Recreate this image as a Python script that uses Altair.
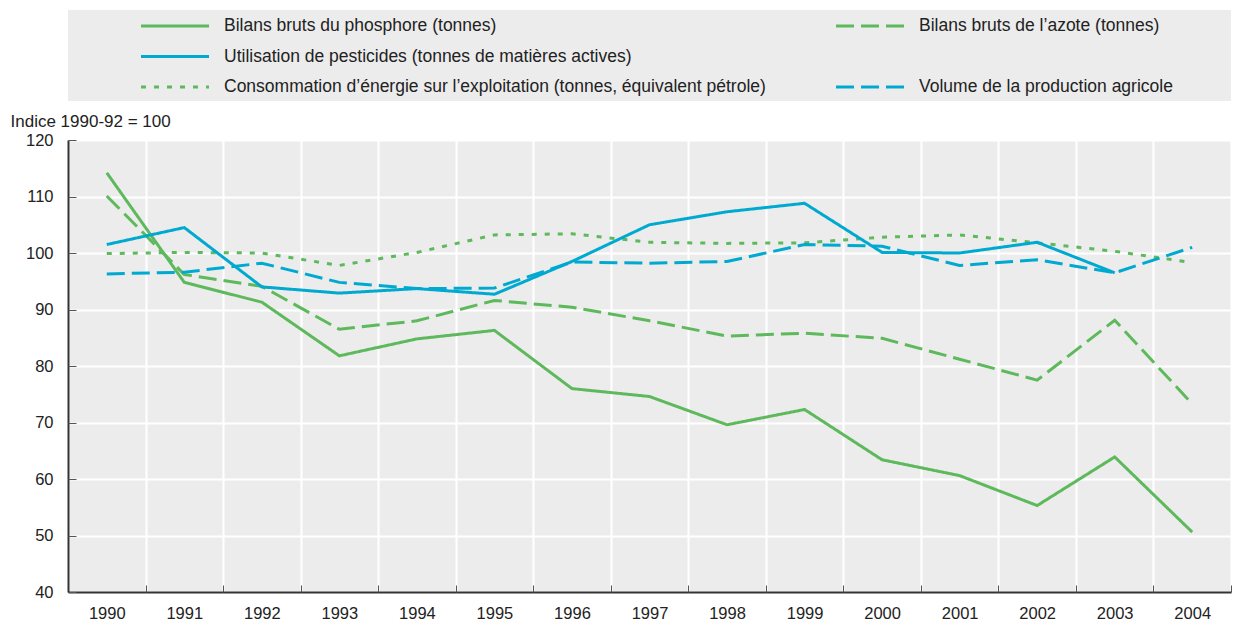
import altair as alt
import pandas as pd

FONT = "Liberation Sans"

years = [str(y) for y in range(1990, 2005)]

phosphore = [114.2, 94.8, 91.3, 81.8, 84.8, 86.3, 76.0, 74.6, 69.6, 72.3, 63.4, 60.6, 55.3, 63.9, 50.6]
azote = [110.1, 96.2, 94.1, 86.5, 88.0, 91.6, 90.4, 88.0, 85.3, 85.8, 84.9, 81.2, 77.5, 88.1, 73.3]
pesticides = [101.5, 104.5, 94.0, 92.9, 93.7, 92.7, 98.5, 105.0, 107.3, 108.8, 100.1, 100.0, 101.9, 96.5, None]
energie = [99.9, 100.1, 100.0, 97.8, 100.1, 103.2, 103.4, 101.9, 101.7, 101.8, 102.8, 103.2, 101.8, 100.3, 98.3]
volume = [96.3, 96.6, 98.2, 94.8, 93.7, 93.8, 98.4, 98.2, 98.5, 101.5, 101.2, 97.8, 98.8, 96.5, 101.0]

names = [
    "Bilans bruts du phosphore (tonnes)",
    "Utilisation de pesticides (tonnes de matières actives)",
    "Consommation d’énergie sur l’exploitation (tonnes, équivalent pétrole)",
    "Bilans bruts de l’azote (tonnes)",
    "Volume de la production agricole",
]
series_values = [phosphore, pesticides, energie, azote, volume]
legend_col = [0, 0, 0, 1, 1]
legend_row = [0, 1, 2, 0, 2]

GREEN = "#5DB95B"
BLUE = "#00A9D0"
colors = [GREEN, BLUE, GREEN, GREEN, BLUE]
dashes = [[1, 0], [1, 0], [5, 8], [18, 7], [18, 7]]

rows = []
for name, vals in zip(names, series_values):
    for yr, v in zip(years, vals):
        if v is not None:
            rows.append({"year": yr, "series": name, "value": v})
df = pd.DataFrame(rows)

leg_df = pd.DataFrame({"series": names, "col": legend_col, "row": legend_row})

W = 1163
H = 452
TXT = "#222222"

color_scale = alt.Scale(domain=names, range=colors)
dash_scale = alt.Scale(domain=names, range=dashes)
yvals = list(range(40, 121, 10))

x_scale = alt.Scale(type="band", paddingInner=0, paddingOuter=0, domain=years)
y_scale = alt.Scale(domain=[40, 120], nice=False, zero=False)

axis_x_a = alt.Axis(orient="bottom", title=None, tickBand="extent", ticks=False, tickSize=0,
                    grid=True, gridColor="white", gridWidth=2, domain=True, domainColor="#333333",
                    domainWidth=2, labelPadding=26, labelBaseline="alphabetic", labelFontSize=16.5,
                    labelColor=TXT, labelFont=FONT, labelAngle=0)
axis_y_a = alt.Axis(orient="left", values=yvals, title="Indice 1990-92 = 100", titleAngle=0,
                    titleAlign="left", titleBaseline="alphabetic", titleX=-58, titleY=-14,
                    titleFont=FONT, titleFontSize=17, titleFontWeight="normal", titleColor=TXT,
                    ticks=False, tickSize=0, labelPadding=15, grid=True, gridColor="white",
                    gridWidth=2, domain=True, domainColor="#333333", domainWidth=2,
                    labelFontSize=16.5, labelColor=TXT, labelFont=FONT)
axis_x_b = alt.Axis(orient="top", offset=-H, title=None, labels=False, domain=False, grid=False,
                    ticks=True, tickSize=7, tickColor="#555555", tickWidth=1, tickBand="extent")
axis_y_b = alt.Axis(orient="right", offset=-W, title=None, labels=False, domain=False, grid=False,
                    values=yvals, ticks=True, tickSize=8, tickColor="#555555", tickWidth=1)

green_names = [names[0], names[2], names[3]]
blue_names = [names[1], names[4]]

layer_a = alt.Chart(df).transform_filter(
    alt.FieldOneOfPredicate(field="series", oneOf=green_names)
).mark_line(strokeWidth=3).encode(
    x=alt.X("year:O", bandPosition=0.5, scale=x_scale, axis=axis_x_a),
    y=alt.Y("value:Q", scale=y_scale, axis=axis_y_a),
    color=alt.Color("series:N", scale=color_scale, legend=None),
    strokeDash=alt.StrokeDash("series:N", scale=dash_scale, legend=None),
)
layer_b = alt.Chart(df).transform_filter(
    alt.FieldOneOfPredicate(field="series", oneOf=blue_names)
).mark_line(strokeWidth=3).encode(
    x=alt.X("year:O", bandPosition=0.5, scale=x_scale, axis=axis_x_b),
    y=alt.Y("value:Q", scale=y_scale, axis=axis_y_b),
    color=alt.Color("series:N", scale=color_scale, legend=None),
    strokeDash=alt.StrokeDash("series:N", scale=dash_scale, legend=None),
)
main = alt.layer(layer_a, layer_b).resolve_axis(x="independent", y="independent").properties(
    width=W, height=H)

leg_base = alt.Chart(leg_df).encode(
    x=alt.X("col:Q", scale=alt.Scale(domain=[0, 1], range=[73, 768]), axis=None),
    y=alt.Y("row:Q", scale=alt.Scale(domain=[0, 2], range=[16, 77]), axis=None),
)
leg_rules = leg_base.mark_rule(strokeWidth=3, x2Offset=68).encode(
    x2=alt.X2("col:Q"),
    color=alt.Color("series:N", scale=color_scale, legend=None),
    strokeDash=alt.StrokeDash("series:N", scale=dash_scale, legend=None),
)
leg_text = leg_base.mark_text(align="left", baseline="middle", dx=83, fontSize=17.5, font=FONT,
                              color=TXT).encode(text="series:N")
legend_panel = alt.layer(leg_rules, leg_text).properties(width=W, height=91)

chart = alt.vconcat(legend_panel, main, spacing=39, bounds="flush").properties(
    padding={"left": 2, "top": 2, "right": 0, "bottom": 0}
).configure(
    font=FONT,
    view=alt.ViewConfig(fill="#ECECEC", stroke=None),
)

chart.save("out.html", embed_options={"renderer": "svg", "actions": False})
